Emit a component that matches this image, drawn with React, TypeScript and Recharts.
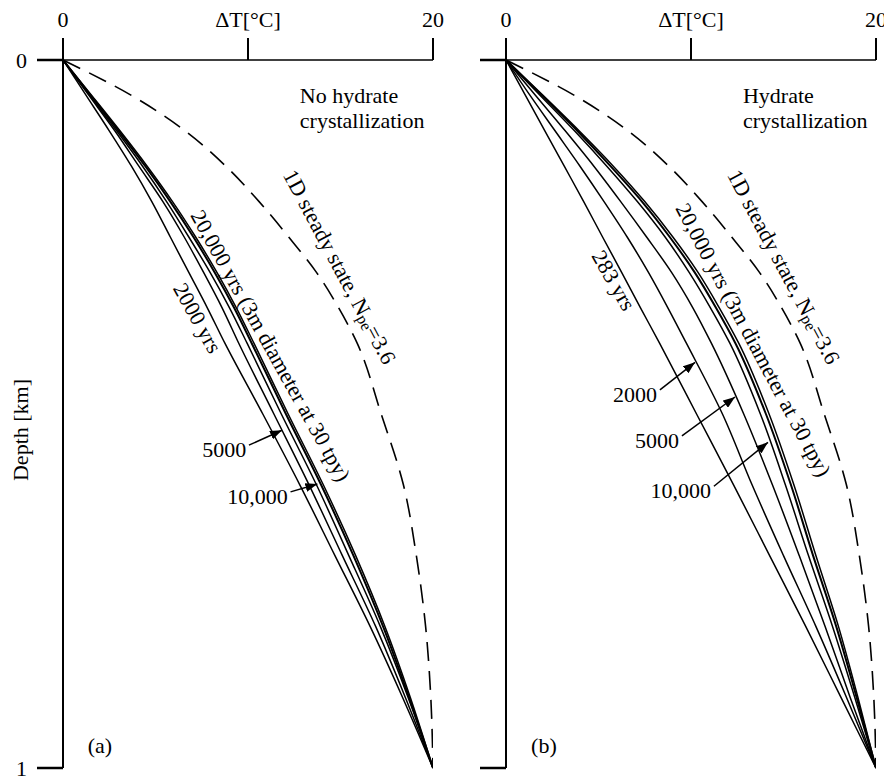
import React from 'react'
import { LineChart, Line, XAxis, YAxis, ReferenceDot, ReferenceLine } from 'recharts'

const serif = "'Liberation Serif', 'Times New Roman', 'DejaVu Serif', serif"
const FS = 22

// depth below surface [km]
const depthKm = [0, 0.05, 0.1, 0.15, 0.2, 0.25, 0.3, 0.35, 0.4, 0.5, 0.6, 0.7, 0.8, 0.9, 1]

// 1D steady state, Npe = 3.6 (same in both panels)
const steadyState = [0, 3.7, 6.6, 8.8, 10.6, 12.2, 13.7, 14.9, 15.9, 17.2, 18.4, 19.1, 19.6, 19.88, 20]

// (a) no hydrate crystallization, ΔT [°C]
const noHyd2000 = [0, 1.25, 2.5, 3.7, 4.8, 5.8, 6.8, 7.8, 8.75, 10.8, 12.8, 14.7, 16.6, 18.35, 20]
const noHyd5000 = [0, 1.4, 2.8, 4.1, 5.4, 6.55, 7.6, 8.6, 9.5, 11.4, 13.3, 15.1, 16.9, 18.5, 20]
const noHyd10000 = [0, 1.45, 2.9, 4.3, 5.6, 6.8, 7.95, 9.0, 9.95, 11.8, 13.7, 15.45, 17.15, 18.65, 20]
const noHyd20000 = [0, 1.5, 3.0, 4.45, 5.8, 7.05, 8.2, 9.25, 10.2, 12.05, 13.95, 15.7, 17.3, 18.7, 20]
const noHyd20000d = [0, 1.55, 3.08, 4.55, 5.92, 7.17, 8.32, 9.37, 10.32, 12.17, 14.07, 15.82, 17.4, 18.77, 20]

// (b) hydrate crystallization, ΔT [°C]
const hyd283 = [0, 1.05, 2.1, 3.15, 4.2, 5.22, 6.25, 7.27, 8.3, 10.3, 12.3, 14.25, 16.2, 18.1, 20]
const hyd2000 = [0, 1.3, 2.65, 4.0, 5.3, 6.55, 7.7, 8.75, 9.75, 11.7, 13.3, 15.0, 16.75, 18.4, 20]
const hyd5000 = [0, 1.6, 3.2, 4.75, 6.2, 7.6, 8.95, 10.1, 11.1, 12.85, 14.4, 15.85, 17.25, 18.6, 20]
const hyd10000 = [0, 1.85, 3.7, 5.45, 7.1, 8.6, 9.9, 11.05, 12.1, 13.75, 15.1, 16.35, 17.65, 18.85, 20]
const hyd20000 = [0, 1.95, 3.85, 5.65, 7.35, 8.85, 10.2, 11.35, 12.4, 14.05, 15.4, 16.6, 17.85, 18.95, 20]
const hyd20000d = [0, 2.0, 3.95, 5.8, 7.5, 9.02, 10.38, 11.53, 12.58, 14.22, 15.56, 16.75, 17.97, 19.02, 20]

const tempTicks = [0, 10, 20]
const depthTicks = [0, 1]

const rowsA = depthKm.map((depth, i) => ({
  depth,
  steady: steadyState[i],
  y2000: noHyd2000[i],
  y5000: noHyd5000[i],
  y10000: noHyd10000[i],
  y20000: noHyd20000[i],
  y20000d: noHyd20000d[i]
}))

const rowsB = depthKm.map((depth, i) => ({
  depth,
  steady: steadyState[i],
  y283: hyd283[i],
  y2000: hyd2000[i],
  y5000: hyd5000[i],
  y10000: hyd10000[i],
  y20000: hyd20000[i],
  y20000d: hyd20000d[i]
}))

const txt = { fill: '#000', fontSize: FS, style: { fontFamily: serif } }

// text placed at a data point (used as label content of a ReferenceDot)
function Note(props: any) {
  const { viewBox, lines, rich, rot = 0, anchor = 'middle', lineHeight = 25 } = props
  if (!viewBox) return null
  const x = viewBox.x + (viewBox.width || 0) / 2
  const y = viewBox.y + (viewBox.height || 0) / 2
  return (
    <text
      x={x}
      y={y}
      textAnchor={anchor}
      dominantBaseline="central"
      {...txt}
      transform={rot ? `rotate(${rot} ${x} ${y})` : undefined}
    >
      {rich
        ? rich
        : lines.map((l: string, i: number) => (
            <tspan key={i} x={x} dy={i === 0 ? 0 : lineHeight}>
              {l}
            </tspan>
          ))}
    </text>
  )
}

function DepthLabel(props: any) {
  const { viewBox } = props
  if (!viewBox) return null
  const x = viewBox.x + 20
  const y = viewBox.y + viewBox.height / 2 + 16
  return (
    <text x={x} y={y} transform={`rotate(-90 ${x} ${y})`} textAnchor="middle" dominantBaseline="central" {...txt}>
      Depth [km]
    </text>
  )
}

function TempTick(props: any) {
  const { x, y, payload } = props
  const v = payload.value
  return (
    <text x={x} y={y} textAnchor="middle" {...txt}>
      {v === 10 ? 'ΔT[°C]' : String(v)}
    </text>
  )
}

function DepthTick(props: any) {
  const { x, y, payload, show } = props
  if (!show) return null
  return (
    <text x={x} y={y} textAnchor="end" dominantBaseline="central" {...txt}>
      {String(payload.value)}
    </text>
  )
}

const steadyText = (
  <>
    1D steady state, N
    <tspan fontSize={16} dy={4}>pe</tspan>
    <tspan dy={-4}>=3.6</tspan>
  </>
)

const dotStyle = { r: 0, fill: 'none', stroke: 'none' }

function Panel({ rows, keys, width, rightMargin, arrowId, depthLabels, children }: any) {
  return (
    <LineChart
      layout="vertical"
      width={width}
      height={776}
      data={rows}
      margin={{ top: 0, right: rightMargin, bottom: 8, left: 0 }}
    >
      <defs>
        <marker
          id={arrowId}
          markerWidth={12}
          markerHeight={9}
          refX={12}
          refY={4.5}
          orient="auto"
          markerUnits="userSpaceOnUse"
        >
          <path d="M0,0 L12,4.5 L0,9 z" fill="#000" />
        </marker>
      </defs>
      <XAxis
        type="number"
        orientation="top"
        domain={[0, 20]}
        ticks={tempTicks}
        interval={0}
        allowDataOverflow
        tickSize={22}
        tickMargin={11}
        height={60}
        axisLine={{ stroke: '#000', strokeWidth: 1.5 }}
        tickLine={{ stroke: '#000', strokeWidth: 2 }}
        tick={<TempTick />}
      />
      <YAxis
        type="number"
        dataKey="depth"
        domain={[0, 1]}
        ticks={depthTicks}
        interval={0}
        tickSize={26}
        tickMargin={10}
        width={63}
        axisLine={{ stroke: '#000', strokeWidth: 2 }}
        tickLine={{ stroke: '#000', strokeWidth: 2.5 }}
        tick={<DepthTick show={depthLabels} />}
        label={depthLabels ? <DepthLabel /> : undefined}
      />
      <Line
        dataKey="steady"
        type="monotone"
        stroke="#000"
        strokeWidth={1.6}
        strokeDasharray="19 10"
        dot={false}
        isAnimationActive={false}
      />
      {keys.map((k: string) => (
        <Line
          key={k}
          dataKey={k}
          type="monotone"
          stroke="#000"
          strokeWidth={k === 'y20000' ? 2 : 1.5}
          dot={false}
          isAnimationActive={false}
        />
      ))}
      {children}
    </LineChart>
  )
}

export default function App() {
  return (
    <div style={{ position: 'absolute', left: 0, top: 0, width: 884, height: 776, background: '#fff', overflow: 'hidden' }}>
      <div style={{ position: 'absolute', left: 0, top: 0 }}>
        <Panel
          rows={rowsA}
          keys={['y2000', 'y5000', 'y10000', 'y20000', 'y20000d']}
          width={450}
          rightMargin={17}
          arrowId="arrowA"
          depthLabels
        >
          <ReferenceDot x={12.8} y={0.05} {...dotStyle} label={<Note anchor="start" lines={['No hydrate', 'crystallization']} />} />
          <ReferenceDot x={14.97} y={0.292} {...dotStyle} label={<Note rot={62} rich={steadyText} />} />
          <ReferenceDot x={11.25} y={0.403} {...dotStyle} label={<Note rot={61} lines={['20,000 yrs (3m diameter at 30 tpy)']} />} />
          <ReferenceDot x={7.3} y={0.364} {...dotStyle} label={<Note rot={61} lines={['2000 yrs']} />} />
          <ReferenceDot x={9.9} y={0.549} {...dotStyle} label={<Note anchor="end" lines={['5000']} />} />
          <ReferenceDot x={12.15} y={0.616} {...dotStyle} label={<Note anchor="end" lines={['10,000']} />} />
          <ReferenceDot x={2.0} y={0.9675} {...dotStyle} label={<Note lines={['(a)']} />} />
          <ReferenceLine segment={[{ x: 10.05, y: 0.544 }, { x: 11.84, y: 0.523 }]} stroke="#000" strokeWidth={1.5} markerEnd="url(#arrowA)" />
          <ReferenceLine segment={[{ x: 12.3, y: 0.61 }, { x: 13.75, y: 0.599 }]} stroke="#000" strokeWidth={1.5} markerEnd="url(#arrowA)" />
        </Panel>
      </div>
      <div style={{ position: 'absolute', left: 443, top: 0 }}>
        <Panel
          rows={rowsB}
          keys={['y283', 'y2000', 'y5000', 'y10000', 'y20000', 'y20000d']}
          width={441}
          rightMargin={8}
          arrowId="arrowB"
          depthLabels={false}
        >
          <ReferenceDot x={12.81} y={0.05} {...dotStyle} label={<Note anchor="start" lines={['Hydrate', 'crystallization']} />} />
          <ReferenceDot x={15.03} y={0.292} {...dotStyle} label={<Note rot={62} rich={steadyText} />} />
          <ReferenceDot x={13.4} y={0.395} {...dotStyle} label={<Note rot={62} lines={['20,000 yrs (3m diameter at 30 tpy)']} />} />
          <ReferenceDot x={5.85} y={0.311} {...dotStyle} label={<Note rot={60} lines={['283 yrs']} />} />
          <ReferenceDot x={8.16} y={0.472} {...dotStyle} label={<Note anchor="end" lines={['2000']} />} />
          <ReferenceDot x={9.35} y={0.537} {...dotStyle} label={<Note anchor="end" lines={['5000']} />} />
          <ReferenceDot x={11.08} y={0.607} {...dotStyle} label={<Note anchor="end" lines={['10,000']} />} />
          <ReferenceDot x={2.05} y={0.9675} {...dotStyle} label={<Note lines={['(b)']} />} />
          <ReferenceLine segment={[{ x: 8.32, y: 0.466 }, { x: 10.22, y: 0.427 }]} stroke="#000" strokeWidth={1.5} markerEnd="url(#arrowB)" />
          <ReferenceLine segment={[{ x: 9.51, y: 0.531 }, { x: 12.38, y: 0.476 }]} stroke="#000" strokeWidth={1.5} markerEnd="url(#arrowB)" />
          <ReferenceLine segment={[{ x: 11.24, y: 0.602 }, { x: 14.16, y: 0.54 }]} stroke="#000" strokeWidth={1.5} markerEnd="url(#arrowB)" />
        </Panel>
      </div>
    </div>
  )
}
